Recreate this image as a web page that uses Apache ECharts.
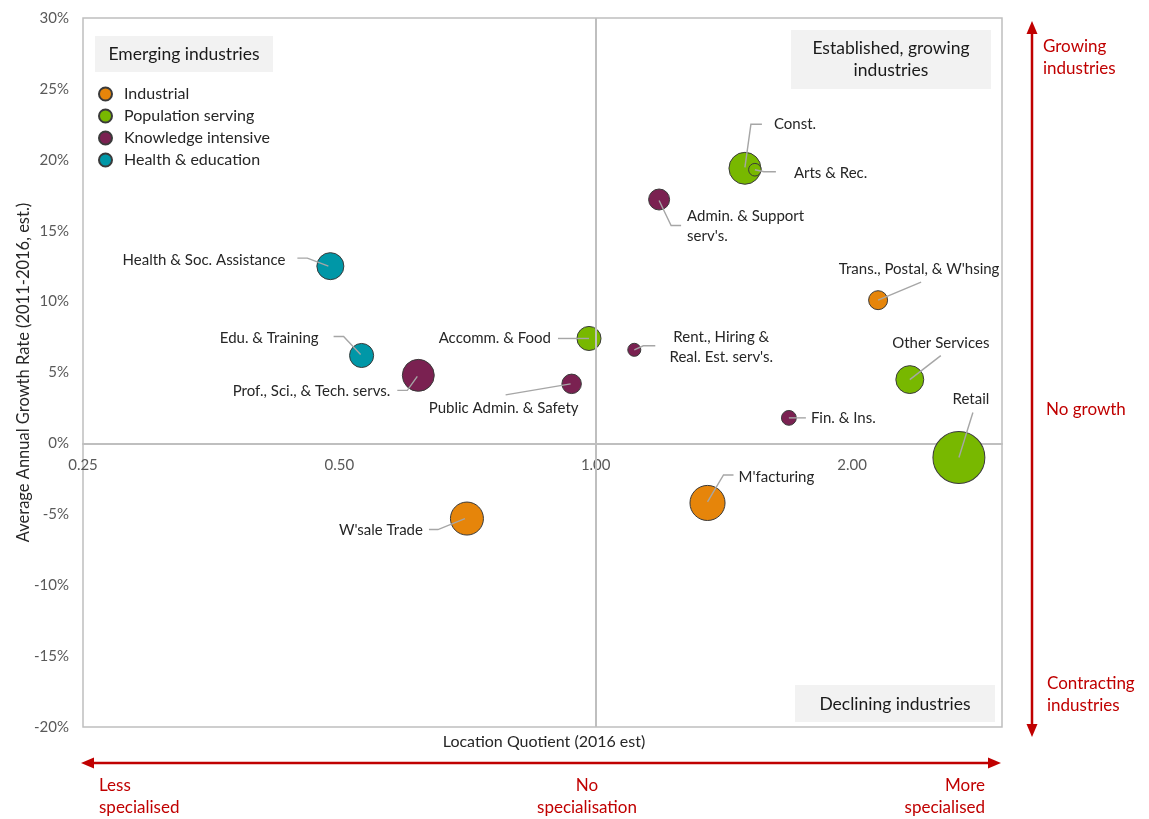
<!DOCTYPE html>
<html>
<head>
<meta charset="utf-8">
<script src="https://cdn.jsdelivr.net/npm/echarts@6/dist/echarts.min.js"></script>
<style>
  html, body { margin: 0; padding: 0; background: #ffffff; }
  #chart { width: 1149px; height: 819px; }
</style>
</head>
<body>
<div id="chart"></div>
<script>
// Industry bubbles: location quotient (x, log scale), growth rate in % (y), employment size (bubble area)
const sectors = ['Industrial', 'Population serving', 'Knowledge intensive', 'Health & education'];

const industries = [
  'Health & Soc. Assistance', 'Edu. & Training', 'Prof., Sci., & Tech. servs.',
  'Public Admin. & Safety', 'Accomm. & Food', 'Rent., Hiring &\nReal. Est. serv\'s.',
  'W\'sale Trade', 'M\'facturing', 'Fin. & Ins.', 'Admin. & Support\nserv\'s.',
  'Const.', 'Arts & Rec.', 'Trans., Postal, & W\'hsing', 'Other Services', 'Retail'
];
const sectorOf = [
  'Health & education', 'Health & education', 'Knowledge intensive',
  'Knowledge intensive', 'Population serving', 'Knowledge intensive',
  'Industrial', 'Industrial', 'Knowledge intensive', 'Knowledge intensive',
  'Population serving', 'Population serving', 'Industrial', 'Population serving', 'Population serving'
];
const locationQuotient = [0.488, 0.531, 0.619, 0.937, 0.982, 1.110, 0.706, 1.353, 1.686, 1.187, 1.497, 1.538, 2.146, 2.338, 2.670];
const growthRate       = [12.5, 6.2, 4.8, 4.2, 7.4, 6.6, -5.3, -4.2, 1.8, 17.2, 19.4, 19.3, 10.1, 4.5, -1.0];
const employment       = [7.3, 5.8, 10.2, 3.8, 5.8, 1.7, 10.9, 12.3, 2.2, 4.4, 10.2, 1.6, 3.6, 7.8, 27.0];

const lqTickLabels = [0.25, 0.5, 1, 2];

// Sector colours
const sectorColors = {
  'Industrial': '#E6850A',
  'Population serving': '#78B800',
  'Knowledge intensive': '#7A2151',
  'Health & education': '#0097A7'
};

// Callout placement for each industry label: text offset from bubble centre and leader polyline
const callouts = {
  'Health & Soc. Assistance': { dx: -45, dy: -6, align: 'right', line: [[-33, -8], [-23, -8], [-2, 0]] },
  'Edu. & Training': { dx: -43, dy: -17, align: 'right', line: [[-28, -19], [-18, -19], [-1, -1]] },
  'Prof., Sci., & Tech. servs.': { dx: -28, dy: 16, align: 'right', line: [[-21, 15], [-11, 15], [-1, 1]] },
  'Public Admin. & Safety': { dx: -68, dy: 24, align: 'center', line: [[-66, 11], [-1, 0]] },
  'Accomm. & Food': { dx: -38, dy: 0, align: 'right', line: [[-31, 0], [0, 0]] },
  'Rent., Hiring &\nReal. Est. serv\'s.': { dx: 87, dy: -3, align: 'center', line: [[21, -4], [9, -4], [0, 0]] },
  'W\'sale Trade': { dx: -44, dy: 12, align: 'right', line: [[-38, 11], [-29, 11], [-2, 0]] },
  'M\'facturing': { dx: 31, dy: -26, align: 'left', line: [[26, -28], [16, -28], [0, -1]] },
  'Fin. & Ins.': { dx: 22, dy: 0, align: 'left', line: [[17, 0], [0, 0]] },
  'Admin. & Support\nserv\'s.': { dx: 28, dy: 27, align: 'left', line: [[0, 1], [12, 26], [22, 26]] },
  'Const.': { dx: 29, dy: -44, align: 'left', line: [[0, -1], [6, -44], [17, -44]] },
  'Arts & Rec.': { dx: 39, dy: 3, align: 'left', line: [[0, 0], [9, 2], [21, 2]] },
  'Trans., Postal, & W\'hsing': { dx: 41, dy: -31, align: 'center', line: [[0, 0], [43, -18]] },
  'Other Services': { dx: 31, dy: -36, align: 'center', line: [[0, 0], [31, -24]] },
  'Retail': { dx: 12, dy: -58, align: 'center', line: [[0, 0], [14, -45]] }
};

const FONT = 'Lato, "Open Sans", "Liberation Sans", sans-serif';
const RED = '#C00000';

// Plot area and growth-axis range
const GRID = { left: 83, top: 18, width: 919, height: 709 };
const Y_MIN = -20, Y_MAX = 30;

const bubbleSeries = sectors.map(function (s) {
  const data = [];
  industries.forEach(function (name, i) {
    if (sectorOf[i] === s) data.push([locationQuotient[i], growthRate[i], employment[i], name]);
  });
  return {
    name: s,
    type: 'scatter',
    z: 3,
    data: data,
    symbolSize: function (v) { return Math.sqrt(v[2]) * 10; },
    itemStyle: { color: sectorColors[s], borderColor: '#3a3a3a', borderWidth: 1, opacity: 1 },
    emphasis: { disabled: true }
  };
});

const calloutSeries = {
  type: 'custom',
  z: 5,
  clip: false,
  silent: true,
  data: industries.map(function (name, i) { return [locationQuotient[i], growthRate[i], name]; }),
  encode: { x: 0, y: 1 },
  renderItem: function (params, api) {
    const name = industries[params.dataIndex];
    const c = api.coord([api.value(0), api.value(1)]);
    const L = callouts[name];
    const pts = L.line.map(function (p) { return [c[0] + p[0], c[1] + p[1]]; });
    return {
      type: 'group',
      children: [
        { type: 'polyline', shape: { points: pts }, style: { stroke: '#A6A6A6', lineWidth: 1.4, fill: null } },
        { type: 'text', x: c[0] + L.dx, y: c[1] + L.dy,
          style: { text: name, align: L.align, verticalAlign: 'middle', fill: '#262626',
                   font: '15px ' + FONT, lineHeight: 20 } }
      ]
    };
  }
};

// Vertical reference line at LQ = 1
const lqOneSeries = {
  type: 'scatter',
  z: 1,
  data: [],
  markLine: {
    silent: true,
    symbol: 'none',
    label: { show: false },
    lineStyle: { color: '#BFBFBF', width: 2, type: 'solid' },
    data: [{ xAxis: 1 }]
  }
};

function txt(x, y, text, align, color, size) {
  return { type: 'text', x: x, y: y, silent: true,
    style: { text: text, align: align, verticalAlign: 'middle', fill: color,
             font: (size || 15) + 'px ' + FONT, lineHeight: 22 } };
}

const graphics = [
  // quadrant captions
  { type: 'rect', shape: { x: 95, y: 36, width: 178, height: 36 }, style: { fill: '#F2F2F2' }, z: 2 },
  Object.assign(txt(184, 54, 'Emerging industries', 'center', '#1A1A1A', 17.5), { z: 3 }),
  { type: 'rect', shape: { x: 791, y: 30, width: 200, height: 59 }, style: { fill: '#F2F2F2' }, z: 2 },
  Object.assign(txt(891, 59, 'Established, growing\nindustries', 'center', '#1A1A1A', 17.5), { z: 3 }),
  { type: 'rect', shape: { x: 795, y: 685, width: 200, height: 37 }, style: { fill: '#F2F2F2' }, z: 2 },
  Object.assign(txt(895, 704, 'Declining industries', 'center', '#1A1A1A', 17.5), { z: 3 }),

  // x-axis title
  txt(544, 742, 'Location Quotient (2016 est)', 'center', '#262626', 16),

  // vertical growth arrow
  { type: 'line', shape: { x1: 1032, y1: 32, x2: 1032, y2: 726 }, style: { stroke: RED, lineWidth: 2.5 } },
  { type: 'polygon', shape: { points: [[1032, 21], [1026.5, 34], [1037.5, 34]] }, style: { fill: RED } },
  { type: 'polygon', shape: { points: [[1032, 737], [1026.5, 724], [1037.5, 724]] }, style: { fill: RED } },
  txt(1043, 58, 'Growing\nindustries', 'left', RED, 17),
  txt(1046, 410, 'No growth', 'left', RED, 17),
  txt(1047, 695, 'Contracting\nindustries', 'left', RED, 17),

  // horizontal specialisation arrow
  { type: 'line', shape: { x1: 92, y1: 763, x2: 990, y2: 763 }, style: { stroke: RED, lineWidth: 2.5 } },
  { type: 'polygon', shape: { points: [[81, 763], [94, 757.5], [94, 768.5]] }, style: { fill: RED } },
  { type: 'polygon', shape: { points: [[1001, 763], [988, 757.5], [988, 768.5]] }, style: { fill: RED } },
  txt(99, 797, 'Less\nspecialised', 'left', RED, 17),
  txt(587, 797, 'No\nspecialisation', 'center', RED, 17),
  txt(985, 797, 'More\nspecialised', 'right', RED, 17)
];

const option = {
  backgroundColor: '#ffffff',
  animation: false,
  textStyle: { fontFamily: FONT },
  grid: {
    left: GRID.left, top: GRID.top, width: GRID.width, height: GRID.height,
    outerBoundsMode: 'none',
    containLabel: false,
    show: true, borderColor: '#BFBFBF', borderWidth: 1.5, backgroundColor: 'transparent'
  },
  legend: {
    data: sectors,
    orient: 'vertical',
    left: 93, top: 81,
    icon: 'circle',
    itemWidth: 13, itemHeight: 13,
    itemGap: 6,
    selectedMode: false,
    textStyle: { fontSize: 16, color: '#262626', fontFamily: FONT, lineHeight: 16, padding: [0, 0, 0, 7] }
  },
  xAxis: {
    type: 'log',
    logBase: 2,
    min: 0.25,
    max: 3,
    // the LQ axis sits on the 0% growth line, labels included
    offset: -GRID.height * (0 - Y_MIN) / (Y_MAX - Y_MIN),
    axisLine: { show: true, onZero: false, lineStyle: { color: '#BFBFBF', width: 2 } },
    axisTick: { show: false },
    splitLine: { show: false },
    axisLabel: {
      margin: 14,
      fontSize: 15,
      color: '#595959',
      fontFamily: FONT,
      showMaxLabel: false,
      formatter: function (v) {
        const hit = lqTickLabels.find(function (t) { return Math.abs(t - v) < 1e-6; });
        return hit === undefined ? '' : hit.toFixed(2);
      }
    }
  },
  yAxis: {
    type: 'value',
    min: Y_MIN,
    max: Y_MAX,
    interval: 5,
    name: 'Average Annual Growth Rate (2011-2016, est.)',
    nameLocation: 'middle',
    nameGap: 51,
    nameMoveOverlap: false,
    nameTextStyle: { fontSize: 16.5, color: '#262626', fontFamily: FONT },
    axisLine: { show: false, onZero: false },
    axisTick: { show: false },
    splitLine: { show: false },
    axisLabel: { fontSize: 15, color: '#595959', fontFamily: FONT, margin: 14, formatter: '{value}%' }
  },
  graphic: graphics,
  series: [lqOneSeries].concat(bubbleSeries, [calloutSeries])
};

const chart = echarts.init(document.getElementById('chart'), null, { renderer: 'canvas' });
chart.setOption(option);
</script>
</body>
</html>
